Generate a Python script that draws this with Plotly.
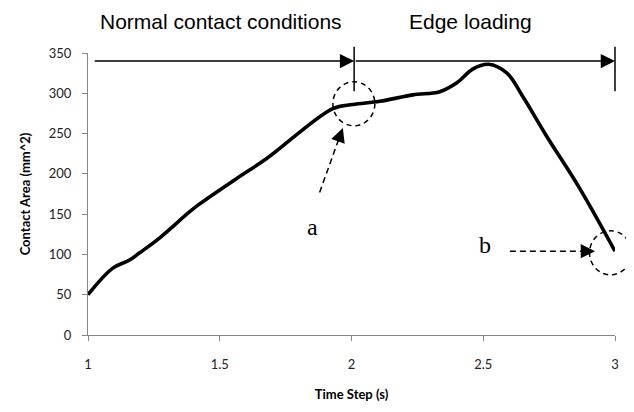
import plotly.graph_objects as go

# ---- data ----
time_s = [1.0, 1.094, 1.158, 1.196, 1.27, 1.386, 1.425, 1.563, 1.678, 1.929, 2.005,
          2.107, 2.233, 2.335, 2.40, 2.46, 2.52, 2.59, 2.65, 2.74, 2.866, 3.0]
contact_area = [50, 83, 93, 102, 120, 153, 163, 194, 219, 281, 286,
                290, 298, 302, 313, 330, 336, 325, 296, 247, 182, 104]

x_ticks = [1, 1.5, 2, 2.5, 3]
x_tick_labels = ["1", "1.5", "2", "2.5", "3"]
y_ticks = [0, 50, 100, 150, 200, 250, 300, 350]

x_range = [1, 3]
y_range = [0, 350]

phase_labels = ["Normal contact conditions", "Edge loading"]
phase_label_x = [1.505, 2.45]
phase_bounds = [1.02, 2.01, 3.0]
phase_arrow_y = 340

point_labels = ["a", "b"]
point_label_x = [1.853, 2.506]
point_label_y = [134, 112]
circle_x = [2.009, 2.983]
circle_y = [287, 102]
dash_tail_x = [1.879, 2.601]
dash_tail_y = [177, 104]
dash_tip_x = [1.967, 2.924]
dash_tip_y = [257, 104]

PLOT_W = 527.0
PLOT_H = 285.0


def px(x):
    return (x - x_range[0]) / (x_range[1] - x_range[0])


def py(y):
    return (y - y_range[0]) / (y_range[1] - y_range[0])


fig = go.Figure()
fig.add_trace(go.Scatter(
    x=time_s, y=contact_area, mode="lines",
    line=dict(color="black", width=3.6, shape="spline", smoothing=1.0),
    showlegend=False, hoverinfo="skip",
))

shapes = []
annotations = []

# top phase arrows
for i in range(2):
    annotations.append(dict(
        x=phase_bounds[i + 1], y=phase_arrow_y, xref="x", yref="y",
        ax=phase_bounds[i], ay=phase_arrow_y, axref="x", ayref="y",
        showarrow=True, arrowhead=2, arrowsize=1.9, arrowwidth=1.5,
        arrowcolor="black", standoff=0, text="",
    ))
    annotations.append(dict(
        x=phase_label_x[i], y=1.112, xref="x", yref="paper",
        text=phase_labels[i], showarrow=False,
        font=dict(family="Liberation Sans", size=21, color="black"),
        xanchor="center", yanchor="middle",
    ))

# vertical bars
for xb in phase_bounds[1:]:
    shapes.append(dict(
        type="line", xref="paper", yref="paper",
        x0=px(xb), x1=px(xb), y0=0.864, y1=1.022,
        line=dict(color="black", width=1.5),
    ))

# dashed circles, dashed arrows, labels
sx = PLOT_W / (x_range[1] - x_range[0])
sy = PLOT_H / (y_range[1] - y_range[0])
for i in range(2):
    shapes.append(dict(
        type="circle", xref="paper", yref="paper",
        xsizemode="pixel", ysizemode="pixel",
        xanchor=px(circle_x[i]), yanchor=py(circle_y[i]),
        x0=-21, x1=21, y0=-22, y1=22,
        line=dict(color="black", width=1.5, dash="5px,4px"),
    ))
    tx, ty = dash_tail_x[i], dash_tail_y[i]
    hx, hy = dash_tip_x[i], dash_tip_y[i]
    dxp = (hx - tx) * sx
    dyp = -(hy - ty) * sy
    L = (dxp ** 2 + dyp ** 2) ** 0.5
    ux, uy = dxp / L, dyp / L
    bx = hx - ux * 12 / sx
    by = hy + uy * 12 / sy
    shapes.append(dict(
        type="line", xref="x", yref="y",
        x0=tx, y0=ty, x1=bx, y1=by,
        line=dict(color="black", width=1.5, dash="6px,4px"),
    ))
    annotations.append(dict(
        x=hx, y=hy, xref="x", yref="y",
        ax=-ux * 13, ay=-uy * 13,
        showarrow=True, arrowhead=2, arrowsize=1.9, arrowwidth=1.5,
        arrowcolor="black", standoff=0, text="",
    ))
    annotations.append(dict(
        x=point_label_x[i], y=point_label_y[i], xref="x", yref="y",
        text=point_labels[i], showarrow=False,
        font=dict(family="Liberation Serif", size=24, color="black"),
        xanchor="center", yanchor="middle",
    ))

axis_common = dict(
    showgrid=False, zeroline=False, showline=True,
    linecolor="#868686", linewidth=1.3,
    ticks="outside", ticklen=5, tickwidth=1, tickcolor="#868686",
    tickfont=dict(family="Lato", size=13, color="#222222"),
)

# the page body adds an 8px offset, so the figure is 8px smaller on each axis
fig.update_layout(
    width=626, height=404,
    margin=dict(l=80, r=19, t=45, b=74),
    paper_bgcolor="white", plot_bgcolor="white",
    xaxis=dict(range=x_range, tickvals=x_ticks, ticktext=x_tick_labels,
               ticklabelstandoff=12,
               title=dict(text="<b>Time Step (s)</b>", standoff=19,
                          font=dict(family="Lato", size=13, color="black")),
               **axis_common),
    yaxis=dict(range=y_range, tickvals=y_ticks, ticklabelstandoff=8,
               title=dict(text="<b>Contact Area (mm^2)</b>", standoff=15,
                          font=dict(family="Lato", size=13, color="black")),
               **axis_common),
    shapes=shapes, annotations=annotations,
)

fig.write_html("out.html")
